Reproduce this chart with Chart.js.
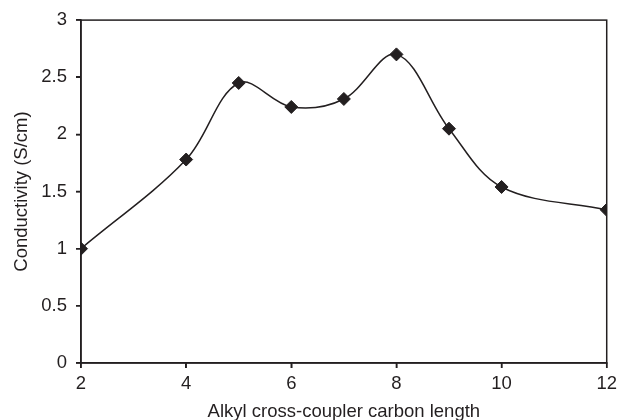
<!DOCTYPE html>
<html>
<head>
<meta charset="utf-8">
<script src="https://cdn.jsdelivr.net/npm/chart.js@4/dist/chart.umd.min.js"></script>
<style>
    body { margin: 0; background: #fff; }
    #wrap { width: 622px; height: 420px; }
</style>
</head>
<body>
<div id="wrap"><canvas id="conductivityChart" width="622" height="420"></canvas></div>
<script>
// carbon length vs conductivity (S/cm)
const carbon_length = [2, 4, 5, 6, 7, 8, 9, 10, 12];
const conductivity = [1.0, 1.78, 2.45, 2.24, 2.31, 2.70, 2.05, 1.54, 1.34];

const ink = '#231f20';
const label_font = { family: 'Liberation Sans', size: 18.5 };

// full frame round the plot area, plus outward tick marks
const frame_plugin = {
    id: 'frame',
    afterDraw(chart) {
        const a = chart.chartArea;
        const c = chart.ctx;
        c.save();
        c.strokeStyle = ink;
        c.lineWidth = 1.5;
        c.strokeRect(a.left, a.top, a.right - a.left, a.bottom - a.top);

        c.beginPath();
        chart.scales.x.ticks.forEach(t => {
            const px = chart.scales.x.getPixelForValue(t.value);
            c.moveTo(px, a.bottom);
            c.lineTo(px, a.bottom + 5);
        });
        chart.scales.y.ticks.forEach(t => {
            const py = chart.scales.y.getPixelForValue(t.value);
            c.moveTo(a.left, py);
            c.lineTo(a.left - 5, py);
        });
        c.stroke();
        c.restore();
    }
};

const points = carbon_length.map((x, i) => ({ x: x, y: conductivity[i] }));

const ctx = document.getElementById('conductivityChart').getContext('2d');

const conductivityChart = new Chart(ctx, {
    type: 'line',
    data: {
        datasets: [{
            label: 'Conductivity',
            data: points,
            borderColor: ink,
            borderWidth: 1.5,
            tension: 0.35,
            pointStyle: 'rectRot',
            pointRadius: 6.5,
            pointBackgroundColor: ink,
            pointBorderColor: ink,
            pointBorderWidth: 1
        }]
    },
    options: {
        responsive: false,
        animation: false,
        layout: { padding: { top: 20, right: 13, left: 0, bottom: 0 } },
        plugins: {
            legend: { display: false },
            tooltip: { enabled: false }
        },
        scales: {
            x: {
                type: 'linear',
                min: 2,
                max: 12,
                afterFit: function(scale) { scale.height = 57; },
                ticks: {
                    stepSize: 2,
                    color: ink,
                    padding: 5,
                    font: label_font
                },
                grid: { drawOnChartArea: false, drawTicks: true, tickLength: 5, color: ink, lineWidth: 1.5 },
                border: { color: ink, width: 1.5 },
                title: {
                    display: true,
                    text: 'Alkyl cross-coupler carbon length',
                    color: ink,
                    padding: { top: 0, bottom: -3 },
                    font: label_font
                }
            },
            y: {
                min: 0,
                max: 3,
                afterFit: function(scale) { scale.width = 81; },
                ticks: {
                    stepSize: 0.5,
                    color: ink,
                    padding: 9,
                    font: label_font,
                    callback: function(value) { return String(value); }
                },
                grid: { drawOnChartArea: false, drawTicks: true, tickLength: 5, color: ink, lineWidth: 1.5 },
                border: { color: ink, width: 1.5 },
                title: {
                    display: true,
                    text: 'Conductivity (S/cm)',
                    color: ink,
                    padding: { top: 11, bottom: 0 },
                    font: label_font
                }
            }
        }
    },
    plugins: [frame_plugin]
});
</script>
</body>
</html>
